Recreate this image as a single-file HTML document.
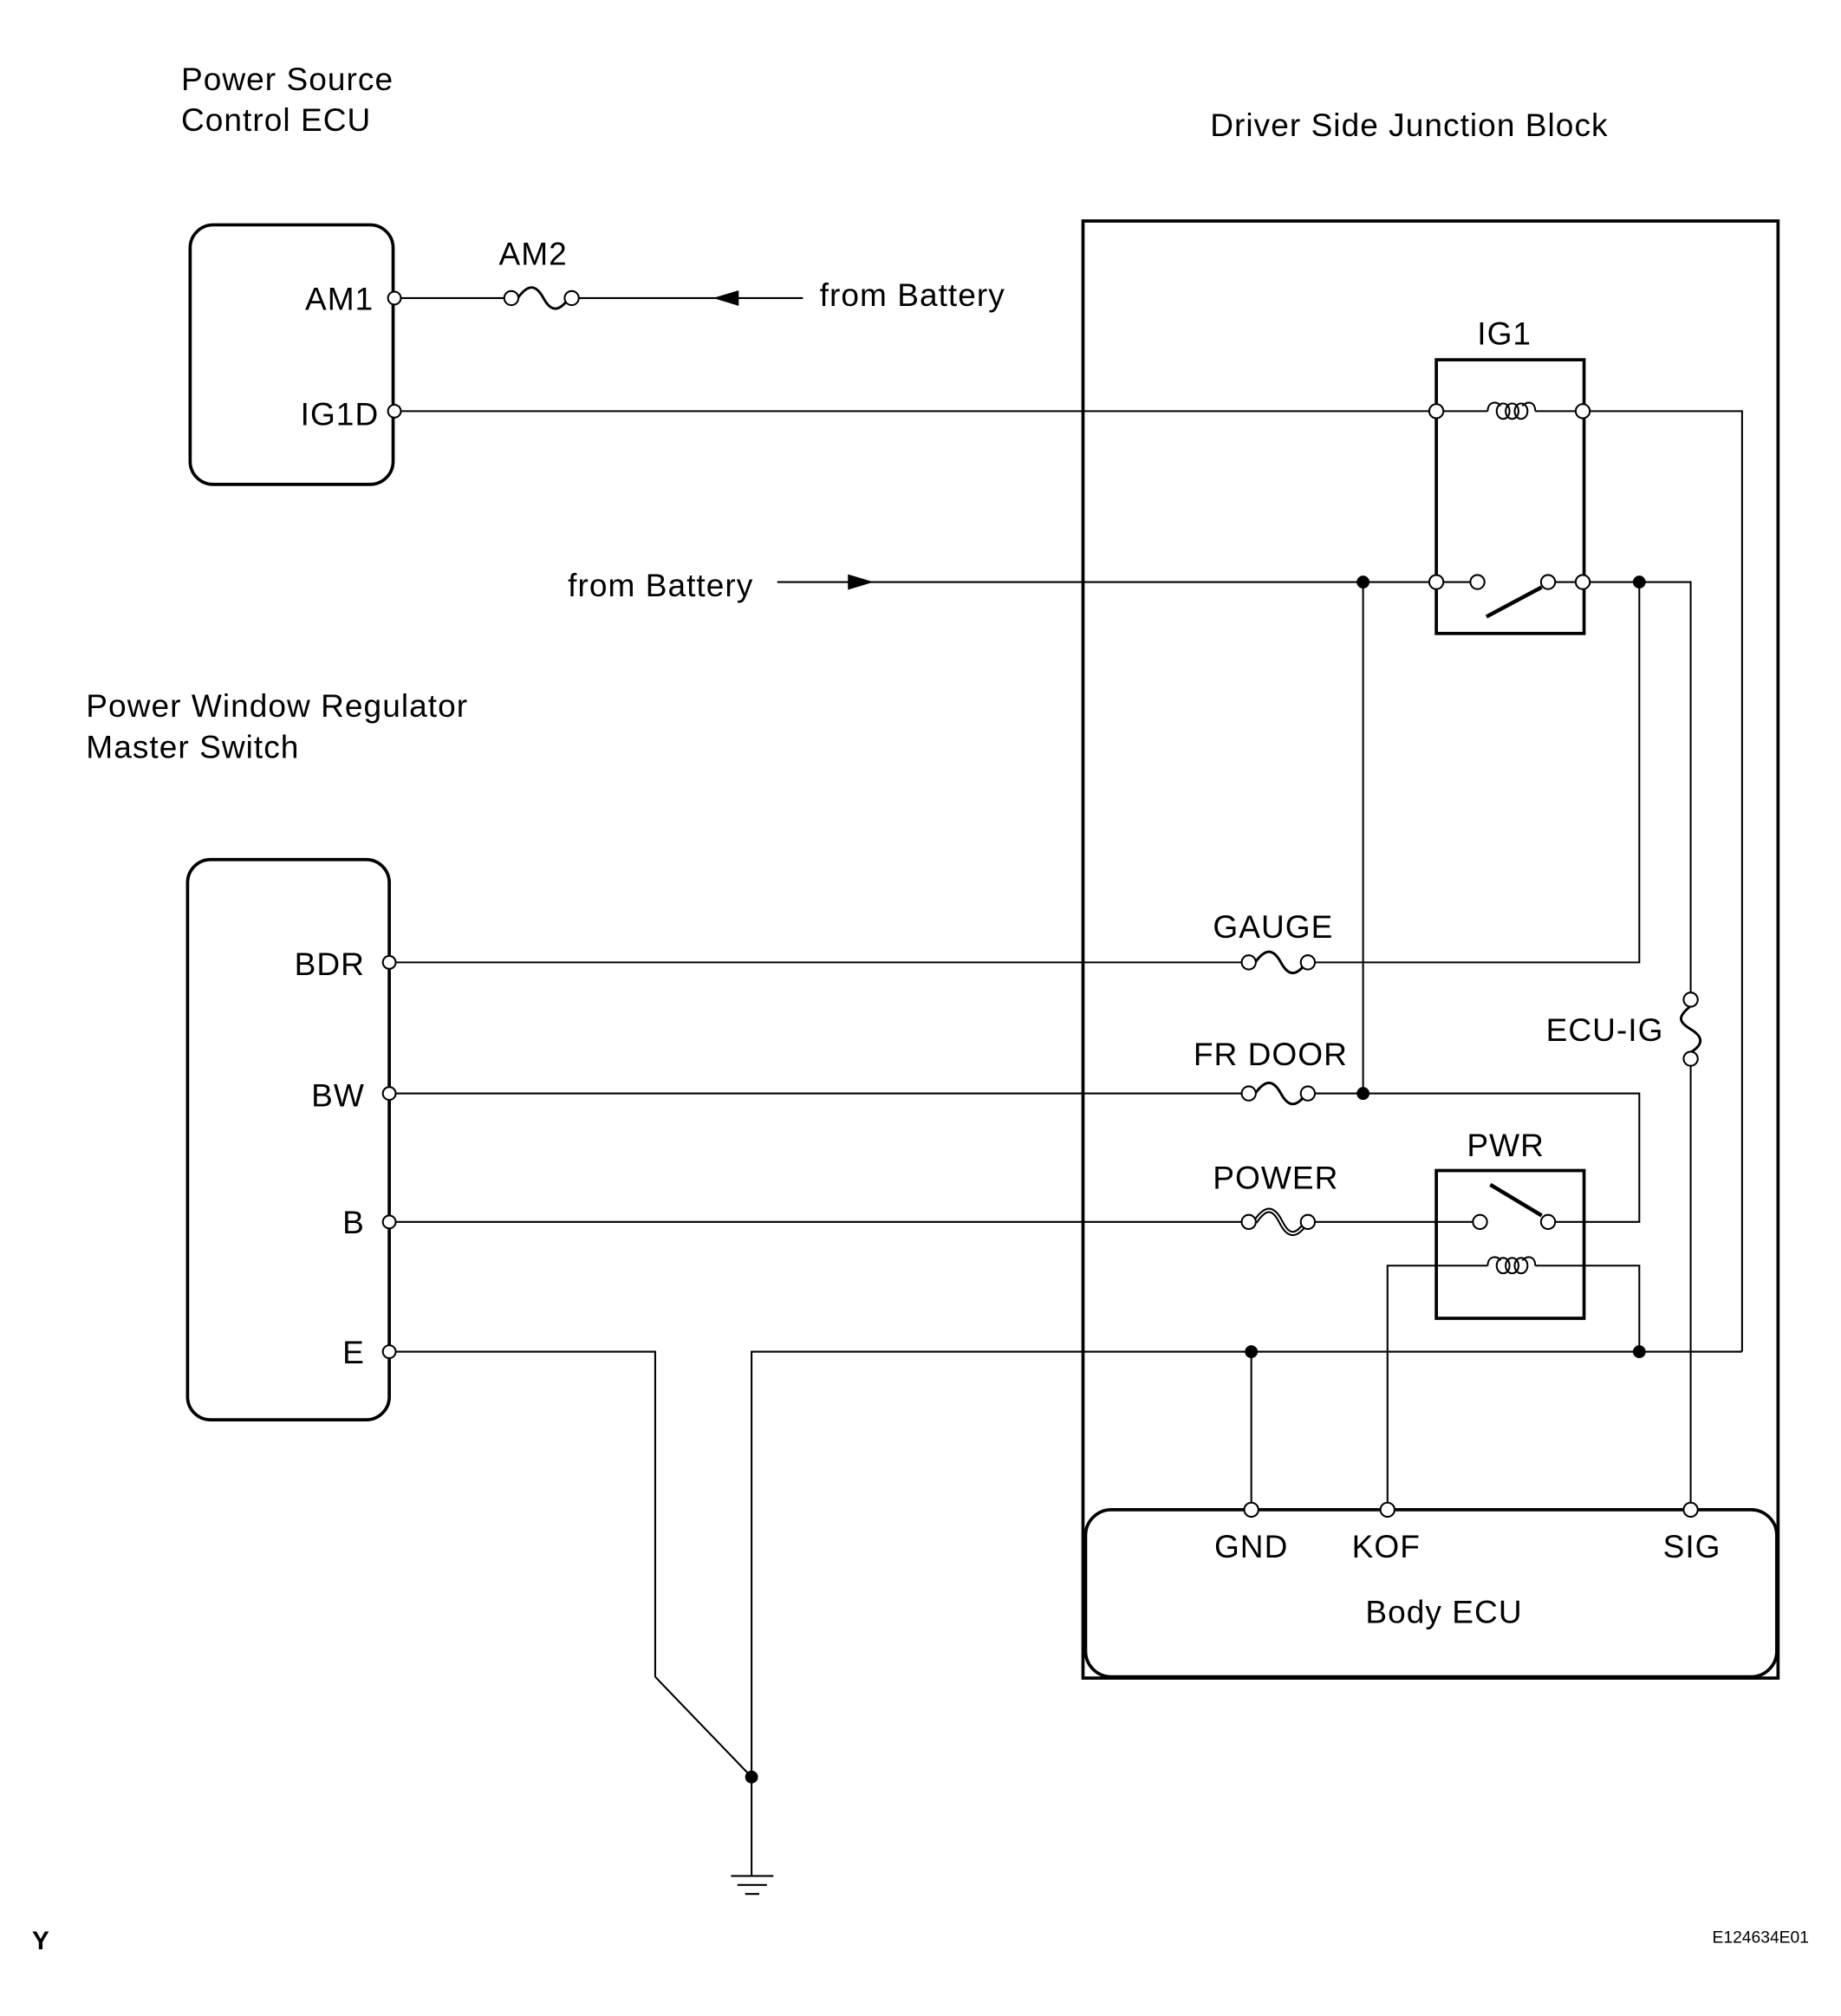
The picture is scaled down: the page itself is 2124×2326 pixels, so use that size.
<!DOCTYPE html>
<html><head><meta charset="utf-8"><style>
html,body{margin:0;padding:0;background:#fff;}
svg{display:block;}
text{font-family:"Liberation Sans",sans-serif;fill:#000;}
</style></head><body>
<svg width="2124" height="2326" viewBox="0 0 1433 1569" preserveAspectRatio="none" xmlns="http://www.w3.org/2000/svg">
<g font-size="25" letter-spacing="0.7">
<text x="141" y="70">Power Source</text>
<text x="141" y="102">Control ECU</text>
<text x="942" y="106">Driver Side Junction Block</text>
<text x="67" y="558">Power Window Regulator</text>
<text x="67" y="590">Master Switch</text>
<text x="415" y="206" text-anchor="middle">AM2</text>
<text x="638" y="238">from Battery</text>
<text x="442" y="464">from Battery</text>
<text x="1171" y="268" text-anchor="middle">IG1</text>
<text x="291" y="241" text-anchor="end">AM1</text>
<text x="295" y="331" text-anchor="end">IG1D</text>
<text x="284" y="759" text-anchor="end">BDR</text>
<text x="284" y="861" text-anchor="end">BW</text>
<text x="284" y="960" text-anchor="end">B</text>
<text x="284" y="1061" text-anchor="end">E</text>
<text x="991" y="730" text-anchor="middle">GAUGE</text>
<text x="989" y="829" text-anchor="middle">FR DOOR</text>
<text x="993" y="925" text-anchor="middle">POWER</text>
<text x="1172" y="900" text-anchor="middle">PWR</text>
<text x="1295" y="810" text-anchor="end">ECU-IG</text>
<text x="974" y="1212" text-anchor="middle">GND</text>
<text x="1079" y="1212" text-anchor="middle">KOF</text>
<text x="1317" y="1212" text-anchor="middle">SIG</text>
<text x="1124" y="1263" text-anchor="middle">Body ECU</text>
</g>
<text x="25" y="1517" font-size="20" font-weight="bold">Y</text>
<text x="1408" y="1512" font-size="13" text-anchor="end">E124634E01</text>

<g fill="none" stroke="#000" stroke-width="2.5">
<rect x="148" y="175" width="158" height="202" rx="18"/>
<rect x="146" y="669" width="157" height="436" rx="18"/>
<rect x="843" y="172" width="541" height="1134"/>
<rect x="845" y="1175" width="538" height="130" rx="20"/>
<rect x="1118" y="280" width="115" height="213"/>
<rect x="1118" y="911" width="115" height="115"/>
<line x1="1157" y1="480" x2="1200" y2="457" stroke-width="3"/>
<line x1="1160" y1="922" x2="1200" y2="946" stroke-width="3"/>
</g>

<g fill="none" stroke="#000" stroke-width="1.4">
<polyline points="307,232 393,232"/>
<polyline points="450,232 625,232"/>
<polyline points="307,320 1158,320"/>
<polyline points="1195,320 1356,320 1356,1052"/>
<polyline points="605,453 1150,453"/>
<polyline points="1205,453 1316,453 1316,773"/>
<polyline points="1316,830 1316,1175"/>
<polyline points="1276,453 1276,749 1023,749"/>
<polyline points="303,749 967,749"/>
<polyline points="1061,453 1061,851"/>
<polyline points="303,851 967,851"/>
<polyline points="1023,851 1276,851 1276,951 1205,951"/>
<polyline points="303,951 967,951"/>
<polyline points="1023,951 1152,951"/>
<polyline points="1080,1175 1080,985 1158,985"/>
<polyline points="1195,985 1276,985 1276,1052"/>
<polyline points="585,1460 585,1052 1356,1052"/>
<polyline points="974,1052 974,1175"/>
<polyline points="303,1052 510,1052 510,1305 585,1383"/>
<line x1="569" y1="1460" x2="602" y2="1460"/>
<line x1="574" y1="1467" x2="597" y2="1467"/>
<line x1="580" y1="1474" x2="591" y2="1474"/>
<path d="M1158,320 c0,-8 8,-8 10,-4 M1185,316 c3,-4 10,-4 10,4"/>
<ellipse cx="1170" cy="320" rx="5" ry="6"/><ellipse cx="1177" cy="320" rx="5" ry="6"/><ellipse cx="1184" cy="320" rx="5" ry="6"/>
<path d="M1158,985 c0,-8 8,-8 10,-4 M1185,981 c3,-4 10,-4 10,4"/>
<ellipse cx="1170" cy="985" rx="5" ry="6"/><ellipse cx="1177" cy="985" rx="5" ry="6"/><ellipse cx="1184" cy="985" rx="5" ry="6"/>
<path d="M403,232 c8,-11 14,-11 20,0 s12,11 20,0" stroke-width="2"/>
<path d="M977,749 c8,-11 14,-11 20,0 s12,11 20,0" stroke-width="2"/>
<path d="M977,851 c8,-11 14,-11 20,0 s12,11 20,0" stroke-width="2"/>
<path d="M977,951 c8,-12 14,-12 20,0 s12,12 20,0" stroke-width="4"/>
<path d="M977,951 c8,-12 14,-12 20,0 s12,12 20,0" stroke="#fff" stroke-width="1.2"/>
<path d="M1316,783 c-10,8 -10,12 0,18 s10,12 0,18" stroke-width="2"/>
</g>
<polygon points="555,232 575,226 575,238" fill="#000"/>
<polygon points="680,453 660,447 660,459" fill="#000"/>

<g fill="#fff" stroke="#000" stroke-width="1.4">
<circle cx="307" cy="232" r="5"/><circle cx="307" cy="320" r="5"/>
<circle cx="398" cy="232" r="5.5"/><circle cx="445" cy="232" r="5.5"/>
<circle cx="1118" cy="320" r="5.5"/><circle cx="1232" cy="320" r="5.5"/>
<circle cx="1118" cy="453" r="5.5"/><circle cx="1150" cy="453" r="5.5"/><circle cx="1205" cy="453" r="5.5"/><circle cx="1232" cy="453" r="5.5"/>
<circle cx="303" cy="749" r="5"/><circle cx="303" cy="851" r="5"/><circle cx="303" cy="951" r="5"/><circle cx="303" cy="1052" r="5"/>
<circle cx="972" cy="749" r="5.5"/><circle cx="1018" cy="749" r="5.5"/>
<circle cx="972" cy="851" r="5.5"/><circle cx="1018" cy="851" r="5.5"/>
<circle cx="972" cy="951" r="5.5"/><circle cx="1018" cy="951" r="5.5"/>
<circle cx="1152" cy="951" r="5.5"/><circle cx="1205" cy="951" r="5.5"/>
<circle cx="1316" cy="778" r="5.5"/><circle cx="1316" cy="824" r="5.5"/>
<circle cx="974" cy="1175" r="5.5"/><circle cx="1080" cy="1175" r="5.5"/><circle cx="1316" cy="1175" r="5.5"/>
</g>
<g fill="#000">
<circle cx="1061" cy="453" r="5"/><circle cx="1276" cy="453" r="5"/>
<circle cx="1061" cy="851" r="5"/>
<circle cx="974" cy="1052" r="5"/><circle cx="1276" cy="1052" r="5"/>
<circle cx="585" cy="1383" r="5"/>
</g>
</svg>
</body></html>
